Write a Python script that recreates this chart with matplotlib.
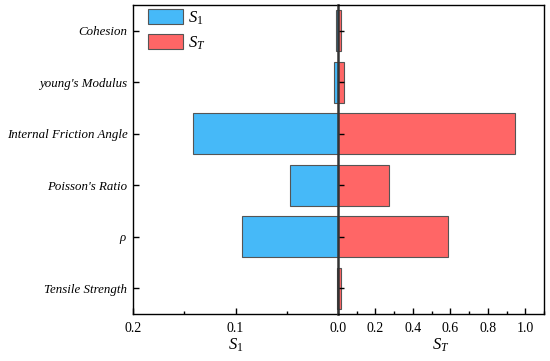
import numpy as np
import matplotlib
matplotlib.use("Agg")
import matplotlib.pyplot as plt
from matplotlib.ticker import FixedLocator, MultipleLocator
from matplotlib.patches import Patch

plt.rcParams['font.family'] = ['Liberation Serif', 'DejaVu Serif']
plt.rcParams['mathtext.fontset'] = 'custom'
plt.rcParams['mathtext.rm'] = 'Liberation Serif'
plt.rcParams['mathtext.it'] = 'Liberation Serif:italic'

# sensitivity indices, top to bottom
params = ["Cohesion", "young's Modulus", "Internal Friction Angle",
          "Poisson's Ratio", r"$\rho$", "Tensile Strength"]
s1 = [0.002, 0.004, 0.141, 0.047, 0.094, 0.001]
st = [0.015, 0.032, 0.945, 0.270, 0.589, 0.014]

BLUE = '#46B9F8'
RED = '#FF6666'
EDGE = '#555555'

fig = plt.figure(figsize=(5.5, 3.61), dpi=100)
ax_l = fig.add_axes([133 / 550, 47 / 361, 205 / 550, 309 / 361])
ax_r = fig.add_axes([338 / 550, 47 / 361, 206 / 550, 309 / 361], sharey=ax_l)

y = np.arange(len(params))
ax_l.barh(y, s1, height=0.8, color=BLUE, edgecolor=EDGE, linewidth=0.8)
ax_r.barh(y, st, height=0.8, color=RED, edgecolor=EDGE, linewidth=0.8)

ax_l.set_ylim(len(params) - 0.5, -0.5)
ax_l.set_yticks(y)
ax_l.set_yticklabels(params, style='italic')

# left: S1, reversed
ax_l.set_xlim(0.2, 0.0)
ax_l.xaxis.set_major_locator(FixedLocator([0.2, 0.1]))
ax_l.xaxis.set_minor_locator(FixedLocator([0.15, 0.05]))
ax_l.set_xticklabels(["0.2", "0.1"])
ax_l.spines['right'].set_visible(False)

# right: ST
ax_r.set_xlim(0.0, 1.1)
ax_r.xaxis.set_major_locator(FixedLocator([0.0, 0.2, 0.4, 0.6, 0.8, 1.0]))
ax_r.xaxis.set_minor_locator(MultipleLocator(0.1))
ax_r.set_xticklabels(["0.0", "0.2", "0.4", "0.6", "0.8", "1.0"])
ax_r.spines['left'].set_linewidth(1.8)
ax_r.spines['left'].set_color('#333333')
ax_r.tick_params(axis='y', labelleft=False)

for ax in (ax_l, ax_r):
    for name in ('top', 'bottom', 'right', 'left'):
        if not (ax is ax_r and name == 'left'):
            ax.spines[name].set_linewidth(1.0)
            ax.spines[name].set_color('black')
    ax.tick_params(which='major', direction='in', length=4, width=1)
    ax.tick_params(which='minor', direction='in', length=2.5, width=1)
    ax.tick_params(axis='x', which='major', pad=6, labelsize=10)
    ax.tick_params(axis='y', which='major', pad=4, labelsize=9.3)
    ax.tick_params(axis='y', which='minor', left=False)

ax_l.set_xlabel(r"$S_{\mathit{1}}$", fontsize=12, labelpad=1)
ax_r.set_xlabel(r"$S_T$", fontsize=12, labelpad=1)

handles = [Patch(facecolor=BLUE, edgecolor=EDGE, linewidth=0.8, label=r"$S_{\mathit{1}}$"),
           Patch(facecolor=RED, edgecolor=EDGE, linewidth=0.8, label=r"$S_T$")]
ax_l.legend(handles=handles, loc='upper left', bbox_to_anchor=(15 / 205, 1 - 4 / 309),
            frameon=False, fontsize=12, borderaxespad=0, borderpad=0,
            handlelength=2.1, handleheight=1.0, handletextpad=0.3, labelspacing=0.45)

fig.savefig("out.png", dpi=100)
